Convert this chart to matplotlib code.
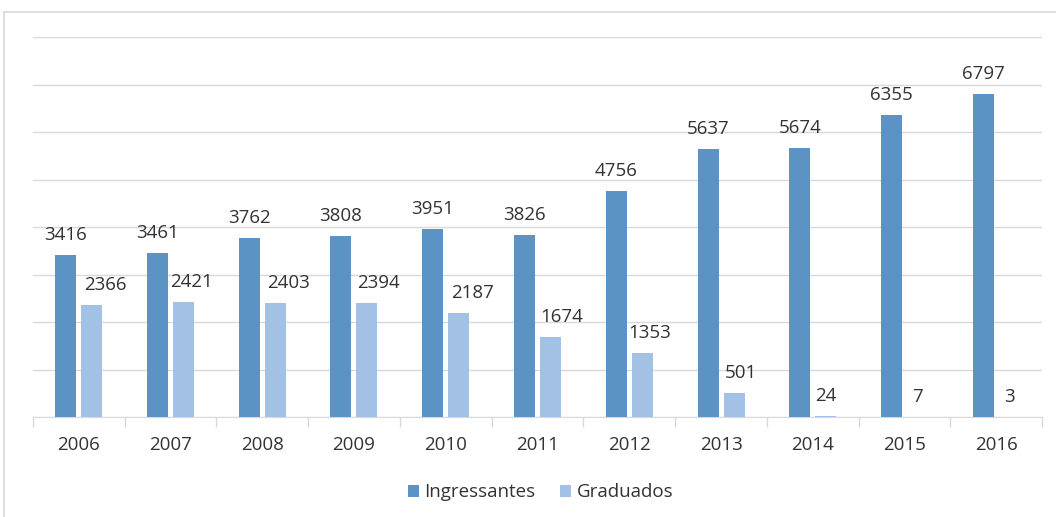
import numpy as np
import matplotlib
matplotlib.use("Agg")
import matplotlib.pyplot as plt
from matplotlib.lines import Line2D

# data
years = ["2006", "2007", "2008", "2009", "2010", "2011", "2012", "2013", "2014", "2015", "2016"]
ingressantes = [3416, 3461, 3762, 3808, 3951, 3826, 4756, 5637, 5674, 6355, 6797]
graduados = [2366, 2421, 2403, 2394, 2187, 1674, 1353, 501, 24, 7, 3]

# the Graduados labels were nudged to the right in the original (pixels)
gradLabelShift = [14, 8, 13, 12, 14, 11, 7, 7, 0, 0, 0]

darkBlue = "#5b93c4"
lightBlue = "#a3c1e4"
textColor = "#333333"
fs = 13.5
px = 0.72  # points per pixel at 100 dpi

plt.rcParams['font.family'] = ['Open Sans', 'DejaVu Sans']

fig = plt.figure(figsize=(10.56, 5.17), dpi=100)
ax = fig.add_axes([0.031, 0.1934, 0.956, 0.7350])

x = np.arange(len(years))
w = 0.229
off = 0.142
b1 = ax.bar(x - off, ingressantes, w, color=darkBlue, label="Ingressantes", zorder=3)
b2 = ax.bar(x + off, graduados, w, color=lightBlue, label="Graduados", zorder=3)

for rect, v in zip(b1, ingressantes):
    ax.annotate(str(v), (rect.get_x() + rect.get_width() / 2, v), xytext=(0, 15 * px),
                textcoords="offset points", ha="center", va="baseline",
                fontsize=fs, color=textColor)
for rect, v, sh in zip(b2, graduados, gradLabelShift):
    ax.annotate(str(v), (rect.get_x() + rect.get_width() / 2, v), xytext=(sh * px, 15 * px),
                textcoords="offset points", ha="center", va="baseline",
                fontsize=fs, color=textColor)

ax.set_xlim(-0.5, len(years) - 0.5)
ax.set_ylim(0, 8000)
ax.set_yticks(np.arange(0, 8001, 1000))
ax.set_yticklabels([])
ax.tick_params(axis="y", length=0)
ax.yaxis.grid(True, color="#d9d9d9", linewidth=1, zorder=0)

# category ticks sit between the groups, labels in the middle
ax.set_xticks(np.arange(-0.5, len(years), 1.0))
ax.set_xticklabels([])
ax.set_xticks(x, minor=True)
ax.set_xticklabels(years, minor=True, fontsize=fs, color=textColor)
ax.tick_params(axis="x", which="major", length=7, color="#d9d9d9", width=1)
ax.tick_params(axis="x", which="minor", length=0, pad=14)

for s in ["top", "right", "left"]:
    ax.spines[s].set_visible(False)
ax.spines["bottom"].set_color("#d9d9d9")

ax.legend(loc="upper center", bbox_to_anchor=(0.503, -0.13), ncol=2, frameon=False,
          fontsize=fs, handlelength=0.6, handleheight=0.6, columnspacing=1.3,
          handletextpad=0.3, labelcolor=textColor)

# outer chart frame (cropped screenshot)
fig.add_artist(Line2D([0.0035, 0.0035], [0.0, 0.977], transform=fig.transFigure,
                      color="#d9d9d9", linewidth=1.2))
fig.add_artist(Line2D([0.0035, 1.0], [0.977, 0.977], transform=fig.transFigure,
                      color="#d9d9d9", linewidth=1.2))

fig.savefig("out.png", dpi=100)
plt.close(fig)
